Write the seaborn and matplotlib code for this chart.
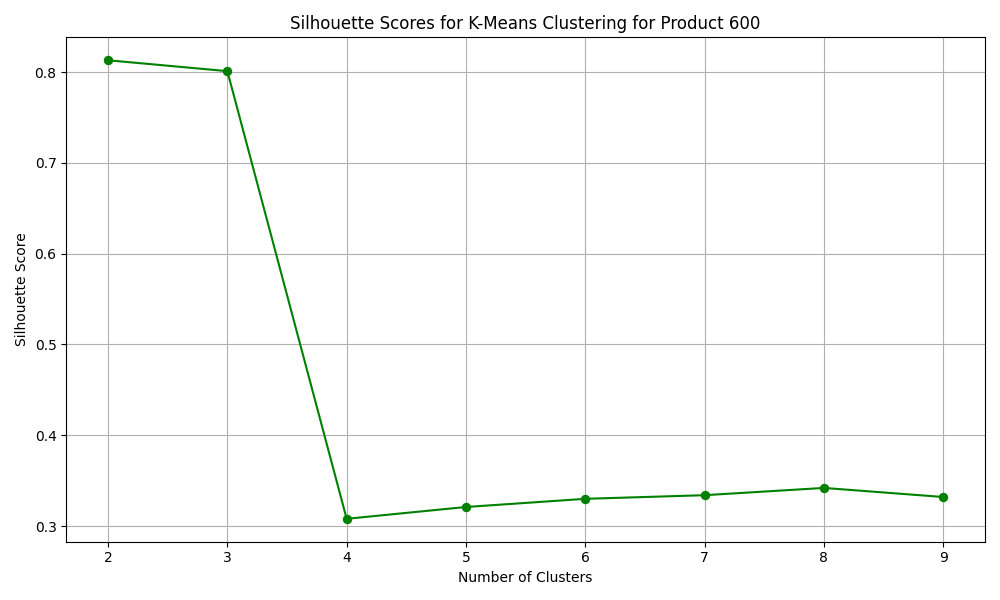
import matplotlib
matplotlib.use("Agg")
import matplotlib.pyplot as plt
import seaborn as sns

# Values
n_clusters = [2, 3, 4, 5, 6, 7, 8, 9]
silhouette_scores = [0.813, 0.801, 0.308, 0.321, 0.330, 0.334, 0.342, 0.332]

fig, ax = plt.subplots(figsize=(10, 6), dpi=100)

sns.lineplot(
    x=n_clusters,
    y=silhouette_scores,
    color="green",
    marker="o",
    markersize=6,
    markeredgecolor="green",
    linewidth=1.5,
    ax=ax,
)

ax.set_title("Silhouette Scores for K-Means Clustering for Product 600")
ax.set_xlabel("Number of Clusters")
ax.set_ylabel("Silhouette Score")
ax.grid(True)

plt.tight_layout()
fig.savefig("out.png", dpi=100)
